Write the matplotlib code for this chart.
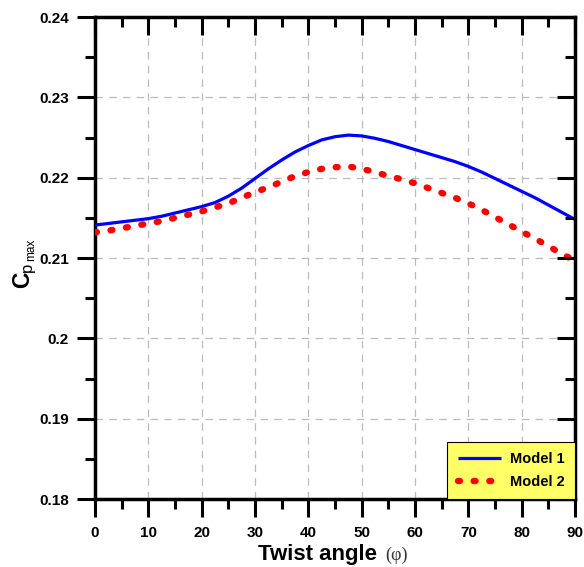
import matplotlib
matplotlib.use("Agg")
import matplotlib.pyplot as plt
from matplotlib.ticker import MultipleLocator, FixedLocator, FixedFormatter

plt.rcParams['font.family'] = ['Liberation Sans', 'DejaVu Sans']

# Twist angle (degrees) and maximum power coefficient for both models
twist_angle = [0, 2.5, 5, 7.5, 10, 12.5, 15, 17.5, 20, 22.5, 25, 27.5, 30, 32.5, 35, 37.5,
               40, 42.5, 45, 47.5, 50, 52.5, 55, 57.5, 60, 62.5, 65, 67.5, 70, 72.5, 75,
               77.5, 80, 82.5, 85, 87.5, 90]
cp_model1 = [0.2141, 0.2143, 0.2145, 0.2147, 0.2149, 0.2152, 0.2156, 0.2160, 0.2164,
             0.2169, 0.2177, 0.2187, 0.2199, 0.2211, 0.2222, 0.2232, 0.2240, 0.2247,
             0.2251, 0.2253, 0.2252, 0.2249, 0.2245, 0.2240, 0.2235, 0.2230, 0.2225,
             0.2220, 0.2214, 0.2207, 0.2199, 0.2191, 0.2183, 0.2175, 0.2166, 0.2157, 0.2148]
cp_model2 = [0.2132, 0.2134, 0.2137, 0.2140, 0.2143, 0.2146, 0.2150, 0.2154, 0.2158,
             0.2163, 0.2168, 0.2175, 0.2182, 0.2188, 0.2195, 0.2202, 0.2207, 0.2211,
             0.2213, 0.2214, 0.2211, 0.2207, 0.2202, 0.2198, 0.2193, 0.2187, 0.2181,
             0.2175, 0.2168, 0.2160, 0.2151, 0.2142, 0.2133, 0.2124, 0.2115, 0.2105, 0.2097]

series_labels = ["Model 1", "Model 2"]
x_ticks = [0, 10, 20, 30, 40, 50, 60, 70, 80, 90]
y_ticks = [0.18, 0.19, 0.20, 0.21, 0.22, 0.23, 0.24]
y_tick_labels = ["0.18", "0.19", "0.2", "0.21", "0.22", "0.23", "0.24"]

MAJ_LEN, MIN_LEN, TICK_W = 13, 7, 2.2
W, H = 584, 567

fig = plt.figure(figsize=(W / 100, H / 100), dpi=100)
ax = fig.add_axes([0.1627, 0.1199, 0.8219, 0.8501])

ax.plot(twist_angle, cp_model1, color="#0000FF", lw=2.3, label=series_labels[0],
        solid_capstyle="butt", zorder=3)
ax.plot(twist_angle, cp_model2, color="#FF0000", lw=4.6, linestyle=(0, (0.3, 2.15)),
        dash_capstyle="round", label=series_labels[1], zorder=3)

ax.set_xlim(0, 90)
ax.set_ylim(0.18, 0.24)
ax.xaxis.set_major_locator(FixedLocator(x_ticks))
ax.xaxis.set_minor_locator(MultipleLocator(5))
ax.yaxis.set_major_locator(FixedLocator(y_ticks))
ax.yaxis.set_major_formatter(FixedFormatter(y_tick_labels))
ax.yaxis.set_minor_locator(MultipleLocator(0.005))

ax.grid(True, which="major", color="#BBBBBB", linestyle=(0, (6, 5)), linewidth=0.9, zorder=0)

for s in ax.spines.values():
    s.set_linewidth(2.5)
    s.set_color("black")

# bottom/left ticks point outward
ax.tick_params(axis="both", which="major", length=MAJ_LEN, width=TICK_W, labelsize=11)
ax.tick_params(axis="both", which="minor", length=MIN_LEN, width=TICK_W)
ax.tick_params(axis="x", which="both", direction="out", pad=6.5)
ax.tick_params(axis="y", which="both", direction="out", pad=6)
for lbl in ax.get_xticklabels() + ax.get_yticklabels():
    lbl.set_fontweight("bold")

# top/right ticks point inward, no labels
axt = ax.twiny()
axt.set_xlim(ax.get_xlim())
axt.xaxis.set_major_locator(FixedLocator(x_ticks))
axt.xaxis.set_minor_locator(MultipleLocator(5))
axt.tick_params(axis="x", which="major", direction="in", length=MAJ_LEN, width=TICK_W,
                top=True, bottom=False, labeltop=False)
axt.tick_params(axis="x", which="minor", direction="in", length=MIN_LEN, width=TICK_W,
                top=True, bottom=False)
for s in axt.spines.values():
    s.set_visible(False)

axr = ax.twinx()
axr.set_ylim(ax.get_ylim())
axr.yaxis.set_major_locator(FixedLocator(y_ticks))
axr.yaxis.set_minor_locator(MultipleLocator(0.005))
axr.tick_params(axis="y", which="major", direction="in", length=MAJ_LEN, width=TICK_W,
                right=True, left=False, labelright=False)
axr.tick_params(axis="y", which="minor", direction="in", length=MIN_LEN, width=TICK_W,
                right=True, left=False)
for s in axr.spines.values():
    s.set_visible(False)

# y-axis title: C with subscript p and sub-subscript max, read bottom to top
def ylabel_piece(text, x_px, y_px, size, weight="normal"):
    fig.text(x_px / W, 1 - y_px / H, text, rotation=90, rotation_mode="anchor",
             ha="left", va="baseline", fontsize=size, fontweight=weight)

ylabel_piece("C", 29, 288, 16.5, "bold")
ylabel_piece("p", 31.5, 271.5, 12)
ylabel_piece("max", 34.5, 261, 8.5)

ax.set_xlabel("Twist angle", fontsize=16, fontweight="bold", labelpad=3, x=0.4635)
ax.annotate("(φ)", xy=(1, 0), xycoords=ax.xaxis.label, xytext=(6, 1),
            textcoords="offset points", fontsize=13,
            family=["Liberation Serif", "DejaVu Serif"],
            ha="left", va="bottom", color="#333333")

handles, labels = ax.get_legend_handles_labels()
leg = axr.legend(handles, labels, loc="lower right", borderaxespad=0, fancybox=False,
                 framealpha=1, facecolor="#FFFF66", edgecolor="black", handlelength=3.0,
                 prop={"weight": "bold", "size": 10.5}, borderpad=0.7, labelspacing=0.6,
                 handletextpad=0.6)
leg.get_frame().set_linewidth(0.8)
leg.set_zorder(5)

fig.savefig("out.png", dpi=100)
